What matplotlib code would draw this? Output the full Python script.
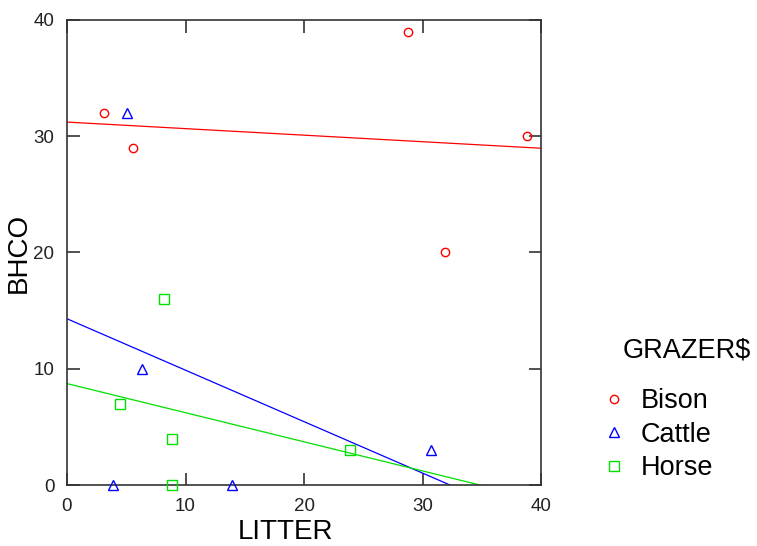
import numpy as np
import matplotlib
matplotlib.use("Agg")
import matplotlib.pyplot as plt

plt.rcParams['font.family'] = ['Liberation Sans', 'DejaVu Sans']

# data
bison_x = [3.1, 5.6, 28.8, 31.9, 38.8]
bison_y = [32, 29, 39, 20, 30]
cattle_x = [5.1, 6.3, 3.9, 13.9, 30.7]
cattle_y = [32, 10, 0, 0, 3]
horse_x = [8.2, 4.5, 8.9, 8.9, 23.9]
horse_y = [16, 7, 4, 0, 3]

groups = [
    ("Bison", bison_x, bison_y, "o", "#ff0000", 6),
    ("Cattle", cattle_x, cattle_y, "^", "#0000ff", 7),
    ("Horse", horse_x, horse_y, "s", "#00e000", 7.5),
]

fig = plt.figure(figsize=(7.57, 5.46), dpi=100)
ax = fig.add_axes([0.0885, 0.1117, 0.6262, 0.8517])

xs = np.linspace(0, 40, 200)
for name, x, y, mk, col, ms in groups:
    ax.plot(x, y, linestyle='none', marker=mk, markersize=ms, markerfacecolor='none',
            markeredgecolor=col, markeredgewidth=1.0, label=name, clip_on=False, zorder=3)
    # least squares fit per group
    slope, icpt = np.polyfit(x, y, 1)
    ax.plot(xs, slope * xs + icpt, color=col, linewidth=0.9, zorder=2)

ax.set_xlim(0, 40)
ax.set_ylim(0, 40)
ax.set_xticks([0, 10, 20, 30, 40])
ax.set_yticks([0, 10, 20, 30, 40])
ax.tick_params(direction='in', length=9, width=1.2, color='#333333', labelsize=13.5,
               labelcolor='#222222', top=True, right=True)
ax.tick_params(axis='x', pad=9)
ax.tick_params(axis='y', pad=9)
for s in ax.spines.values():
    s.set_linewidth(1.2)
    s.set_color('#333333')

ax.set_xlabel('LITTER', fontsize=20, labelpad=3, x=0.46)
ax.set_ylabel('BHCO', fontsize=20, labelpad=1)

fig.text(687 / 757, 1 - 350 / 546, 'GRAZER$', fontsize=19.5, ha='center', va='center')
leg = ax.legend(frameon=False, loc='upper left',
                bbox_to_anchor=(0.793, 1 - 388 / 546), bbox_transform=fig.transFigure,
                fontsize=19.5, handletextpad=0.5, labelspacing=0.28,
                handlelength=1.0, borderaxespad=0, borderpad=0)

fig.savefig('out.png', dpi=100)
